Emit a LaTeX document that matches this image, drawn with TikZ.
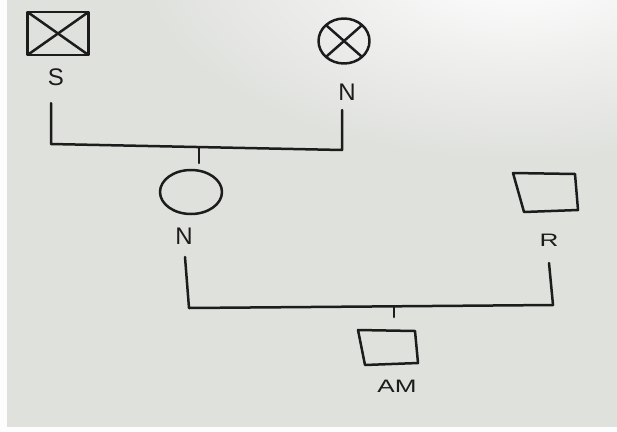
\documentclass[tikz,border=0pt]{standalone}
\usepackage{fontspec}
\setmainfont{Liberation Sans}
\usetikzlibrary{shapes.geometric}
\definecolor{paper}{RGB}{223,225,221}
\definecolor{ink}{RGB}{28,28,28}
\tikzset{
  ink/.style={draw=ink, line width=2.5pt, line cap=round, line join=round},
  lab/.style={text=ink, inner sep=0pt, font=\fontsize{24}{24}\selectfont},
  smalllab/.style={text=ink, inner sep=0pt, font=\fontsize{18}{18}\selectfont, xscale=1.45},
  crossed/.style={path picture={
      \draw[ink] (path picture bounding box.north west) -- (path picture bounding box.south east);
      \draw[ink] (path picture bounding box.south west) -- (path picture bounding box.north east);}}
}
\begin{document}
\begin{tikzpicture}[x=1pt,y=-1pt]
\useasboundingbox (0,0) rectangle (617,431);
% paper
\fill[paper] (0,0) rectangle (617,431);
\begin{scope}
\clip (0,0) rectangle (617,431);
\shade[inner color=white, outer color=paper] (520,-40) ellipse (380 and 200);
\end{scope}
\fill[white!95!paper] (0,0) rectangle (7,431);
\fill[white!95!paper] (0,427) rectangle (617,431);
% generation I
\node[ink, crossed, rectangle, minimum width=61pt, minimum height=43pt, inner sep=0pt] (S) at (58,33.5) {};
\node[lab] (Slab) at (56,77) {S};
\node[ink, crossed, ellipse, minimum width=51pt, minimum height=45pt, inner sep=0pt] (N1) at (344,41) {};
\node[lab] (N1lab) at (347,92) {N};
\coordinate (a1) at (51,103);
\coordinate (a2) at (51,144);
\coordinate (a3) at (342,150);
\coordinate (a4) at (342,110);
\draw[ink] (a1) -- (a2) -- (a3) -- (a4);
\coordinate (t1) at (199,147.5);
\coordinate (t2) at (199,163);
\draw[ink] (t1) -- (t2);
% generation II
\node[ink, ellipse, minimum width=62pt, minimum height=44pt, inner sep=0pt] (N2) at (191,192) {};
\node[lab] (N2lab) at (184,236) {N};
\draw[ink] (513,173) -- (575,174) -- (578,210) -- (524,212) -- cycle;
\node[smalllab] (Rlab) at (549,240) {R};
\coordinate (b1) at (185,257);
\coordinate (b2) at (189,308);
\coordinate (b3) at (553,305);
\coordinate (b4) at (549,263);
\draw[ink] (b1) -- (b2) -- (b3) -- (b4);
\coordinate (u1) at (394,306.5);
\coordinate (u2) at (394,317);
\draw[ink] (u1) -- (u2);
% generation III
\draw[ink] (358,330) -- (415,331) -- (418,363) -- (365,365) -- cycle;
\node[smalllab] (AMlab) at (397,386) {AM};
\end{tikzpicture}
\end{document}
